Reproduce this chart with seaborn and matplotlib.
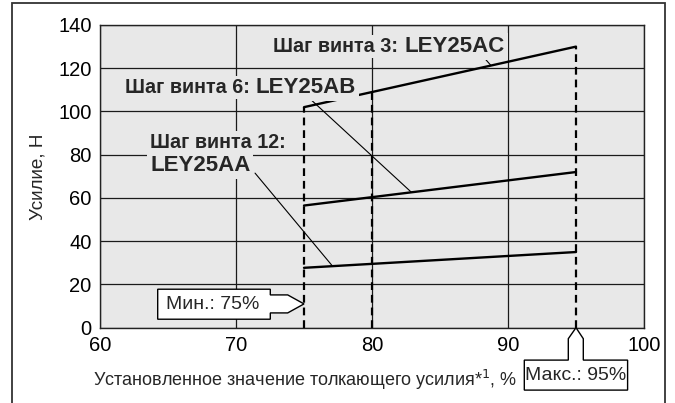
import numpy as np
import pandas as pd
import seaborn as sns
import matplotlib
matplotlib.use("Agg")
import matplotlib.pyplot as plt
from matplotlib.patches import Polygon, Rectangle
from matplotlib.transforms import Affine2D, ScaledTranslation

# ---------------- data ----------------
set_value = [75, 95]                 # % setting of pushing force
force_lead3 = [102, 130]             # LEY25AC
force_lead6 = [56.5, 72]             # LEY25AB
force_lead12 = [27.7, 35]            # LEY25AA
series_names = ["LEY25AC", "LEY25AB", "LEY25AA"]
limit_marks = [75, 80, 95]           # dashed verticals
min_pct = 75
max_pct = 95
x_ticks = [60, 70, 80, 90, 100]
y_ticks = [0, 20, 40, 60, 80, 100, 120, 140]

df = pd.DataFrame({
    "x": set_value * 3,
    "y": force_lead3 + force_lead6 + force_lead12,
    "s": [n for n in series_names for _ in set_value],
})

W, H = 675, 403
sns.set_theme(style="white")
plt.rcParams["font.family"] = ["Liberation Sans", "DejaVu Sans"]

fig = plt.figure(figsize=(W / 100, H / 100), dpi=100)
ax = fig.add_axes([100 / W, 1 - 327.7 / H, 544 / W, 302.7 / H])
ax.set_facecolor("#e8e8e8")

def fx(px):
    return px / W

def fy(py):
    return 1 - py / H

# grid
ax.set_xlim(60, 100)
ax.set_ylim(0, 140)
ax.set_xticks(x_ticks)
ax.set_yticks(y_ticks)
ax.set_xticks([65, 85], minor=True)
ax.set_yticks(list(range(10, 140, 20)), minor=True)
ax.grid(True, which="major", color="#1a1a1a", lw=0.9, zorder=0)
ax.set_axisbelow(True)
ax.tick_params(which="major", length=0, labelsize=14.5, colors="black")
ax.tick_params(axis="y", which="major", pad=6)
ax.tick_params(axis="x", which="major", pad=6)
ax.tick_params(which="minor", direction="in", length=4, width=1, color="black")
for sp in ax.spines.values():
    sp.set_color("#222222")
    sp.set_linewidth(1.0)

# series lines
sns.lineplot(data=df, x="x", y="y", hue="s", palette=["black"] * 3,
             lw=1.7, legend=False, ax=ax, zorder=4)

# dashed verticals up to LEY25AC line
for xm in limit_marks:
    ytop = np.interp(xm, set_value, force_lead3)
    ax.plot([xm, xm], [0, ytop], color="black", lw=1.6,
            dashes=(3.5, 2.2), zorder=3)

ax.set_xlabel("")
ax.set_ylabel("")

bg = dict(boxstyle="square,pad=0.12", fc="#e8e8e8", ec="none")

# series labels
small, big = 14.2, 16
fig.text(fx(273), fy(52), "Шаг винта 3:", fontsize=small, fontweight="bold",
         ha="left", va="baseline", bbox=bg, zorder=5)
fig.text(fx(505), fy(52), "LEY25AC", fontsize=big, fontweight="bold",
         ha="right", va="baseline", bbox=bg, zorder=5)
fig.text(fx(125), fy(93), "Шаг винта 6:", fontsize=small, fontweight="bold",
         ha="left", va="baseline", bbox=bg, zorder=5)
fig.text(fx(356), fy(93), "LEY25AB", fontsize=big, fontweight="bold",
         ha="right", va="baseline", bbox=bg, zorder=5)
fig.text(fx(150), fy(148), "Шаг винта 12:", fontsize=small, fontweight="bold",
         ha="left", va="baseline", bbox=bg, zorder=5)
fig.text(fx(150), fy(171), "LEY25AA", fontsize=big, fontweight="bold",
         ha="left", va="baseline", bbox=bg, zorder=5)

# leader lines
leaders = [
    ((88.1, 125.9), 88.75, force_lead3),
    ((75.4, 106.1), 82.9, force_lead6),
    ((71.4, 71.5), 77.1, force_lead12),
]
for (tx, ty), xl, ser in leaders:
    yl = np.interp(xl, set_value, ser)
    ax.annotate("", xy=(xl, yl), xytext=(tx, ty),
                arrowprops=dict(arrowstyle="-", color="black", lw=0.8,
                                shrinkA=0, shrinkB=0), zorder=5)

# callouts
def callout(xd, yd, verts, text, tdx, tdy):
    tr = Affine2D() + ScaledTranslation(xd, yd, ax.transData)
    poly = Polygon(verts, closed=True, transform=tr, fc="white",
                   ec="black", lw=1.0, clip_on=False, zorder=6)
    ax.add_patch(poly)
    ax.annotate(text, xy=(xd, yd), xytext=(tdx, tdy),
                textcoords="offset pixels", ha="center", va="center",
                fontsize=14, zorder=7, annotation_clip=False)

min_verts = [(0, 0), (-16.3, 9), (-33.7, 9), (-33.7, 14.7), (-146.3, 14.7),
             (-146.3, -15.3), (-33.7, -15.3), (-33.7, -9), (-16.3, -9)]
callout(min_pct, 11, min_verts, "Мин.: 75%", -91, -0.3)

max_verts = [(0, 0), (7.3, -11), (7.3, -32.4), (51.6, -32.4), (51.6, -62.4),
             (-51.7, -62.4), (-51.7, -32.4), (-7.7, -32.4), (-7.7, -11)]
callout(max_pct, 0, max_verts, "Макс.: 95%", 0, -47.4)

# axis titles
fig.text(fx(93), fy(386), "Установленное значение толкающего усилия*$^1$, %",
         fontsize=13, ha="left", va="baseline")
fig.text(fx(38), fy(177), "Усилие, Н", fontsize=13.6, rotation=90,
         ha="center", va="center")

# figure frame
fig.add_artist(Rectangle((fx(12), -0.05), fx(665) - fx(12), fy(3) + 0.05,
                         transform=fig.transFigure, fill=False,
                         ec="#333333", lw=1.3))

fig.savefig("out.png", dpi=100)
